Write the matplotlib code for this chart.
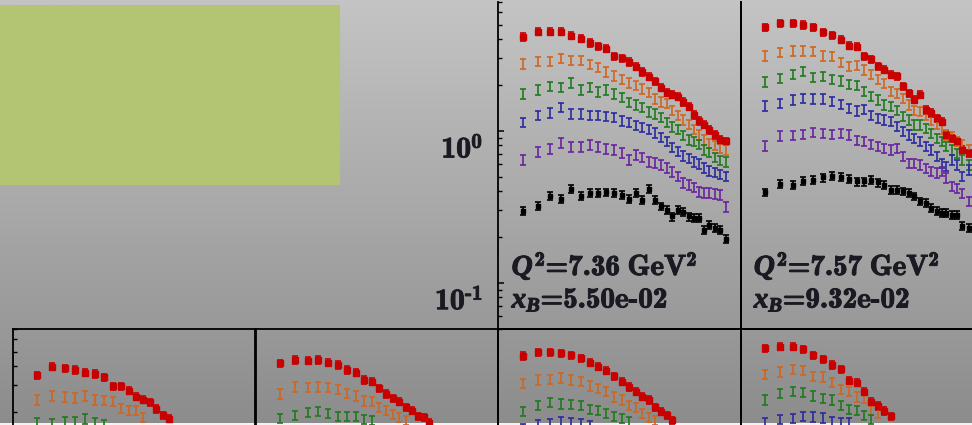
import numpy as np
import matplotlib
matplotlib.use("Agg")
import matplotlib.pyplot as plt
from matplotlib.colors import LinearSegmentedColormap
from matplotlib.patches import Rectangle
from matplotlib.transforms import ScaledTranslation
import matplotlib.patheffects as pe
import matplotlib.ticker as mticker

plt.rcParams['font.family'] = ['DejaVu Serif']
plt.rcParams['mathtext.fontset'] = 'custom'
plt.rcParams['mathtext.rm'] = 'cmb10'
plt.rcParams['mathtext.it'] = 'Liberation Serif:italic:bold'
plt.rcParams['mathtext.bf'] = 'cmb10'

# ---------------- data ----------------
x_bins = [0.103, 0.163, 0.215, 0.260, 0.301, 0.340, 0.378, 0.413, 0.446, 0.479,
          0.510, 0.539, 0.567, 0.594, 0.621, 0.646, 0.671, 0.695, 0.718, 0.741,
          0.764, 0.786, 0.809, 0.830, 0.850, 0.871, 0.894, 0.916, 0.941]

series_names = ["red", "orange", "green", "blue", "purple", "black"]
series_colors = ["#c80000", "#d2651e", "#1e7a1e", "#2a2aa0", "#6a22a0", "#000000"]
series_markers = ["s", "none", "none", "none", "none", "s"]
series_relerr = [0.055, 0.07, 0.07, 0.07, 0.07, 0.06]

# top row, panel 3: Q2 = 7.36, xB = 5.50e-02
a_red = [4.15, 4.48, 4.48, 4.48, 4.22, 4.03, 3.79, 3.60, 3.47, 3.09, 2.99, 2.84, 2.64, 2.44, 2.27,
         2.11, 1.92, 1.78, 1.73, 1.68, 1.55, 1.44, 1.27, 1.16, 1.095, 1.015, 0.94, 0.87, 0.85]
a_orange = [2.76, 2.86, 2.86, 2.98, 2.89, 2.89, 2.72, 2.60, 2.44, 2.30, 2.17, 2.07, 1.98, 1.89, 1.78,
            1.62, 1.55, 1.51, 1.37, 1.27, 1.18, 1.10, 1.02, 0.94, 0.87, 0.83, 0.80, 0.77, 0.75]
a_green = [1.75, 1.86, 1.95, 1.92, 2.07, 1.86, 1.92, 1.80, 1.86, 1.75, 1.65, 1.53, 1.48, 1.42, 1.33,
           1.29, 1.22, 1.13, 1.06, 1.02, 0.93, 0.87, 0.85, 0.81, 0.75, 0.72, 0.67, 0.64, 0.625]
a_blue = [1.13, 1.27, 1.31, 1.42, 1.29, 1.29, 1.27, 1.27, 1.24, 1.22, 1.16, 1.13, 1.08, 1.05, 1.02,
          0.97, 0.91, 0.85, 0.78, 0.73, 0.685, 0.655, 0.625, 0.606, 0.57, 0.545, 0.53, 0.514, 0.50]
a_purple = [0.644, 0.727, 0.76, 0.834, 0.785, 0.785, 0.809, 0.785, 0.76, 0.75, 0.717, 0.644, 0.695,
            0.665, 0.625, 0.616, 0.597, 0.57, 0.537, 0.50, 0.455, 0.441, 0.422, 0.397, 0.391, 0.391,
            0.385, 0.379, 0.316]
a_black = [0.298, 0.321, 0.373, 0.355, 0.414, 0.373, 0.389, 0.389, 0.393, 0.389, 0.379, 0.355, 0.389,
           0.352, 0.414, 0.352, 0.318, 0.302, 0.273, 0.302, 0.294, 0.273, 0.267, 0.267, 0.223, 0.241,
           0.229, 0.223, 0.194]

# top row, panel 4: Q2 = 7.57, xB = 9.32e-02
b_red = [4.78, 5.11, 5.11, 4.98, 4.78, 4.46, 4.24, 3.97, 3.63, 3.58, 3.08, 2.96, 2.65, 2.52, 2.34,
         2.28, 1.96, 1.77, 1.60, 1.73, 1.37, 1.31, 1.21, 1.15, 0.94, 0.895, 0.85, 0.75, 0.71]
b_orange = [3.11, 3.29, 3.36, 3.36, 3.32, 3.11, 3.08, 2.83, 2.65, 2.69, 2.52, 2.34, 2.17, 2.06, 1.81,
            1.77, 1.64, 1.48, 1.37, 1.34, 1.27, 1.18, 1.10, 1.02, 0.94, 0.917, 0.85, 0.81, 0.75]
b_green = [2.10, 2.20, 2.36, 2.46, 2.24, 2.28, 2.17, 2.13, 2.01, 1.99, 1.81, 1.68, 1.60, 1.48, 1.44,
           1.37, 1.24, 1.18, 1.095, 1.095, 1.04, 0.966, 0.895, 0.85, 0.79, 0.75, 0.71, 0.644, 0.597]
b_blue = [1.46, 1.52, 1.60, 1.64, 1.62, 1.62, 1.56, 1.50, 1.41, 1.35, 1.39, 1.27, 1.21, 1.18, 1.15,
          1.07, 0.99, 0.94, 0.895, 0.85, 0.79, 0.75, 0.68, 0.613, 0.58, 0.644, 0.597, 0.50, 0.554]
b_purple = [0.797, 0.927, 0.931, 0.951, 0.975, 0.966, 0.951, 0.966, 0.94, 0.86, 0.85, 0.81, 0.79,
            0.77, 0.75, 0.77, 0.68, 0.613, 0.613, 0.597, 0.569, 0.54, 0.528, 0.54, 0.49, 0.43, 0.42,
            0.389, 0.343]
b_black = [0.393, 0.446, 0.441, 0.469, 0.476, 0.493, 0.506, 0.50, 0.483, 0.464, 0.464, 0.476, 0.457,
           0.441, 0.409, 0.409, 0.399, 0.389, 0.37, 0.343, 0.335, 0.31, 0.295, 0.288, 0.288, 0.280,
           0.280, 0.235, 0.229]

# bottom row (only the upper part is visible)
c_red = [3.49, 3.97, 3.88, 3.78, 3.63, 3.56, 3.38, 2.96, 2.96, 2.76, 2.52, 2.41, 2.31, 2.10, 1.91, 1.81]
c_orange = [2.40, 2.55, 2.52, 2.48, 2.55, 2.40, 2.38, 2.34, 2.12, 2.04, 2.04, 1.85]
c_green = [1.70, 1.68, 1.72, 1.72, 1.80, 1.70, 1.66]

d_red = [4.18, 4.40, 4.35, 4.40, 4.22, 4.08, 3.78, 3.63, 3.25, 3.17, 2.86, 2.63, 2.46, 2.34, 2.15,
         2.04, 1.88, 1.85, 1.70]
d_orange = [2.63, 2.93, 2.89, 2.93, 2.89, 2.82, 2.66, 2.55, 2.37, 2.34, 2.15, 2.04, 1.94, 1.85, 1.77]
d_green = [1.81, 1.91, 1.98, 2.01, 1.96, 1.88, 1.87, 1.87, 1.79, 1.77]

e_red = [4.67, 4.93, 4.93, 4.86, 4.74, 4.51, 4.22, 3.97, 3.74, 3.44, 3.17, 2.93, 2.72, 2.52, 2.40,
         2.15, 2.01, 1.91, 1.77]
e_orange = [3.09, 3.25, 3.28, 3.36, 3.25, 3.17, 2.97, 2.86, 2.72, 2.52, 2.40, 2.22, 2.15, 1.96, 1.85, 1.77]
e_green = [2.03, 2.22, 2.31, 2.26, 2.25, 2.20, 2.09, 2.04, 1.96, 1.87, 1.81, 1.73]
e_blue = [1.57, 1.65, 1.67, 1.73, 1.71, 1.67, 1.63]

f_red = [5.26, 5.38, 5.38, 5.18, 4.74, 4.45, 4.08, 3.82, 3.22, 3.12, 2.72, 2.34, 2.19, 2.03, 1.87]
f_orange = [3.54, 3.68, 3.82, 3.78, 3.44, 3.41, 3.12, 2.82, 2.72, 2.52, 2.46, 2.06, 1.96]
f_green = [2.40, 2.66, 2.72, 2.68, 2.55, 2.46, 2.40, 2.22, 2.09, 2.06, 1.91, 1.79]
f_blue = [1.70, 1.79, 1.81, 1.88, 1.86, 1.83, 1.74, 1.70, 1.70]

labels_a = [r"$Q^2$=7.36$\ $GeV$^2$", r"$x_B$=5.50e-02"]
labels_b = [r"$Q^2$=7.57$\ $GeV$^2$", r"$x_B$=9.32e-02"]

y_limits = (0.05, 7.0)

# ---------------- figure ----------------
W, H = 972, 425
fig = plt.figure(figsize=(W / 100, H / 100), dpi=100)

bg = fig.add_axes([0, 0, 1, 1], zorder=-10)
grad = np.linspace(0, 1, 256).reshape(-1, 1)
cmap = LinearSegmentedColormap.from_list("bg", ["#c4c4c4", "#8c8c8c"])
bg.imshow(grad, aspect="auto", cmap=cmap, extent=[0, 1, 0, 1], origin="upper")
bg.add_patch(Rectangle((0, 1 - 185 / H), 340 / W, 180 / H, color="#b3c573", lw=0))
bg.add_patch(Rectangle((0, 0), 1, 2.5 / H, color="#f2f2f2", lw=0))
bg.set_xlim(0, 1)
bg.set_ylim(0, 1)
bg.axis("off")

text_color = "#1a1a22"
heavy = [pe.withStroke(linewidth=0.7, foreground=text_color)]


def px_axes(left, top, width, height):
    ax = fig.add_axes([left / W, 1 - (top + height) / H, width / W, height / H])
    ax.set_facecolor("none")
    return ax


panel_w = 242.3
panel_h = 326.2


def log_label(v, pos):
    return r"$10^{\text{%d}}$" % int(round(np.log10(v)))


def draw_panel(ax, series, show_ticks, show_labels, hide_top):
    ax.set_yscale("log")
    ax.set_ylim(*y_limits)
    ax.set_xlim(0, 1)
    for i, vals in enumerate(series):
        if vals is None:
            continue
        v = np.array(vals)
        xx = np.array(x_bins[:len(v)])
        ms = 4.3 if i == 0 else 3.3
        ax.errorbar(xx, v, yerr=series_relerr[i] * v, fmt=series_markers[i],
                    color=series_colors[i], ecolor=series_colors[i], mec=series_colors[i],
                    ms=ms, capsize=2.4, capthick=1.2, elinewidth=1.2, lw=0)
    for s in ax.spines.values():
        s.set_linewidth(1.3)
        s.set_color("black")
    if hide_top:
        ax.spines["top"].set_visible(False)
    ax.xaxis.set_major_locator(mticker.NullLocator())
    ax.xaxis.set_minor_locator(mticker.NullLocator())
    if show_ticks:
        ax.yaxis.set_major_locator(mticker.LogLocator(base=10))
        ax.yaxis.set_minor_locator(mticker.LogLocator(base=10, subs=np.arange(2, 10)))
        ax.yaxis.set_major_formatter(mticker.FuncFormatter(log_label))
        ax.yaxis.set_minor_formatter(mticker.NullFormatter())
        ax.tick_params(axis="y", which="major", direction="in", length=4.5, width=1.1,
                       labelsize=21.5, pad=11, right=False, labelleft=show_labels,
                       labelcolor=text_color)
        ax.tick_params(axis="y", which="minor", direction="in", length=3, width=1.0, right=False)
        if show_labels:
            off = ScaledTranslation(0, -15 / 100, fig.dpi_scale_trans)
            for lab in ax.get_yticklabels():
                lab.set_transform(lab.get_transform() + off)
                lab.set_path_effects(heavy)
    else:
        ax.yaxis.set_major_locator(mticker.NullLocator())
        ax.yaxis.set_minor_locator(mticker.NullLocator())


col_left = [12.5, 255.5, 498.3, 740.5]
top_row_top = 2.3
bot_row_top = 329.3

ax_a = px_axes(col_left[2], top_row_top, panel_w, panel_h)
draw_panel(ax_a, [a_red, a_orange, a_green, a_blue, a_purple, a_black], True, True, True)
ax_b = px_axes(col_left[3], top_row_top, panel_w, panel_h)
draw_panel(ax_b, [b_red, b_orange, b_green, b_blue, b_purple, b_black], False, False, True)

for ax, lab in ((ax_a, labels_a), (ax_b, labels_b)):
    ax.text(0.055, 0.164, lab[0], transform=ax.transAxes, fontsize=21, family="cmb10",
            va="baseline", ha="left", color=text_color, path_effects=heavy)
    ax.text(0.055, 0.064, lab[1], transform=ax.transAxes, fontsize=21, family="cmb10",
            va="baseline", ha="left", color=text_color, path_effects=heavy)

bottom_sets = [
    [c_red, c_orange, c_green, None, None, None],
    [d_red, d_orange, d_green, None, None, None],
    [e_red, e_orange, e_green, e_blue, None, None],
    [f_red, f_orange, f_green, f_blue, None, None],
]
for k, sets in enumerate(bottom_sets):
    ax = px_axes(col_left[k], bot_row_top, panel_w, panel_h)
    draw_panel(ax, sets, k == 0, False, False)

fig.savefig("out.png", dpi=100)
